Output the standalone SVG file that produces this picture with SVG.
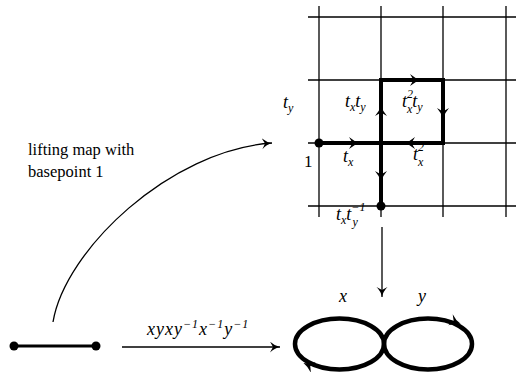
<svg xmlns="http://www.w3.org/2000/svg" xmlns:xlink="http://www.w3.org/1999/xlink" width="516" height="372" viewBox="0 0 516 372">
<style>
.grid{stroke:#000;stroke-width:1.3;fill:none}
.thick{stroke:#000;stroke-width:4;fill:none;stroke-linecap:square}
.thin{stroke:#000;stroke-width:1.3;fill:none}
.ell{stroke:#000;stroke-width:4.5;fill:none}
.m{font-family:"Liberation Serif","DejaVu Serif",serif;font-style:italic;font-size:18px;fill:#000}
.s{font-family:"Liberation Serif","DejaVu Serif",serif;font-style:italic;font-size:12px;fill:#000}
.r{font-family:"Liberation Serif","DejaVu Serif",serif;font-size:16.5px;fill:#000}
.r1{font-family:"Liberation Serif","DejaVu Serif",serif;font-size:17px;fill:#000}
.rs{font-family:"Liberation Serif","DejaVu Serif",serif;font-size:12px;fill:#000}
</style>
<defs>
<marker id="arr" markerWidth="13" markerHeight="13" refX="10" refY="5.5" orient="auto" markerUnits="userSpaceOnUse">
<path d="M0,0 Q4.5,4.5 10,5.5 Q4.5,6.5 0,11 L3,5.5 Z" fill="#000"/>
</marker>
<path id="ah" d="M5,0 Q-1,-1.5 -6,-6 L-2.5,0 L-6,6 Q-1,1.5 5,0 Z" fill="#000"/>
</defs>
<g id="grid">
<line class="grid" x1="308" y1="17" x2="516" y2="17"/>
<line class="grid" x1="308" y1="80" x2="516" y2="80"/>
<line class="grid" x1="308" y1="143" x2="516" y2="143"/>
<line class="grid" x1="308" y1="206" x2="516" y2="206"/>
<line class="grid" x1="319" y1="6" x2="319" y2="217"/>
<line class="grid" x1="381" y1="6" x2="381" y2="217"/>
<line class="grid" x1="443" y1="6" x2="443" y2="217"/>
<line class="grid" x1="506" y1="6" x2="506" y2="217"/>
</g>
<g id="lift-path">
<path class="thick" d="M319,143 L381,143 L381,80 L443,80 L443,143 L381,143 L381,206"/>
<circle cx="319" cy="143" r="4.5" fill="#000"/>
<circle cx="381" cy="206" r="4.5" fill="#000"/>
<use xlink:href="#ah" transform="translate(355,143)"/>
<use xlink:href="#ah" transform="translate(381,110) rotate(-90)"/>
<use xlink:href="#ah" transform="translate(416,80)"/>
<use xlink:href="#ah" transform="translate(443,114) rotate(90)"/>
<use xlink:href="#ah" transform="translate(409,143) rotate(180)"/>
<use xlink:href="#ah" transform="translate(381,177) rotate(90)"/>
</g>
<g id="grid-labels">
<text class="m" x="283" y="108">t<tspan class="s" dy="4">y</tspan></text>
<text class="r1" x="304" y="167">1</text>
<text class="m" x="343" y="162">t<tspan class="s" dy="4">x</tspan></text>
<text class="m" x="345" y="107">t<tspan class="s" dy="4">x</tspan><tspan dy="-4">t</tspan><tspan class="s" dy="4">y</tspan></text>
<text class="m" x="402" y="107">t<tspan class="rs" dy="-9">2</tspan><tspan class="s" dx="-6" dy="15">x</tspan><tspan dy="-6">t</tspan><tspan class="s" dy="4">y</tspan></text>
<text class="m" x="413" y="160">t<tspan class="rs" dy="-9">2</tspan><tspan class="s" dx="-6" dy="15">x</tspan></text>
<text class="m" x="336" y="220">t<tspan class="s" dy="4">x</tspan><tspan dy="-4">t</tspan><tspan class="rs" dy="-9">−1</tspan><tspan class="s" dx="-13" dy="15">y</tspan></text>
</g>
<g id="lift-text">
<text class="r" x="28" y="155">lifting map with</text>
<text class="r" x="28" y="177">basepoint 1</text>
</g>
<g id="segment">
<line x1="14" y1="346" x2="96" y2="346" stroke="#000" stroke-width="3"/>
<circle cx="14" cy="346" r="4.5" fill="#000"/>
<circle cx="96" cy="346" r="4.5" fill="#000"/>
</g>
<g id="figure-eight">
<ellipse class="ell" cx="339.5" cy="344" rx="44.5" ry="25.5"/>
<ellipse class="ell" cx="428" cy="344" rx="44" ry="25.5"/>
<use xlink:href="#ah" transform="translate(456,322) rotate(22)"/>
<use xlink:href="#ah" transform="translate(308,365) rotate(205)"/>
<text class="m" x="339" y="302">x</text>
<text class="m" x="418" y="302">y</text>
</g>
<g id="connectors">
<path class="thin" d="M53,322 C65,250 170,150 272,143" marker-end="url(#arr)"/>
<line class="thin" x1="382" y1="227" x2="382" y2="297" marker-end="url(#arr)"/>
<line class="thin" x1="122" y1="347" x2="280" y2="347" marker-end="url(#arr)"/>
<text class="m" x="147" y="335" letter-spacing="1">xyxy<tspan class="rs" dy="-7">−1</tspan><tspan dy="7">x</tspan><tspan class="rs" dy="-7">−1</tspan><tspan dy="7">y</tspan><tspan class="rs" dy="-7">−1</tspan></text>
</g>
</svg>
